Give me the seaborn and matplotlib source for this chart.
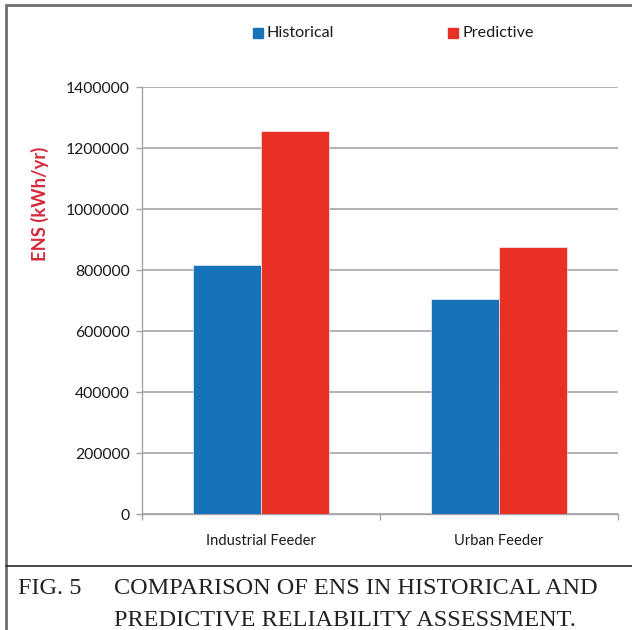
import matplotlib
matplotlib.use("Agg")
import matplotlib.pyplot as plt
from matplotlib.lines import Line2D
from matplotlib.patches import Rectangle
import seaborn as sns
import pandas as pd

# Energy not supplied per feeder, two assessment approaches
feeders = ["Industrial Feeder", "Urban Feeder"]
methods = ["Historical", "Predictive"]
historical = [816000, 705000]
predictive = [1258000, 877000]
y_ticks = [0, 200000, 400000, 600000, 800000, 1000000, 1200000, 1400000]

colors = {"Historical": "#1773b9", "Predictive": "#e83025"}
grid_color = "#a6a2ab"

df = pd.DataFrame({
    "feeder": feeders * 2,
    "method": [methods[0]] * len(feeders) + [methods[1]] * len(feeders),
    "ens": historical + predictive,
})

sns.set_theme(style="white")
plt.rcParams["font.family"] = ["Lato", "DejaVu Sans"]

W, H = 632, 630
fig = plt.figure(figsize=(W / 100, H / 100), dpi=100)
ax = fig.add_axes([142 / W, 1 - 514.3 / H, (618 - 142) / W, (514.3 - 87.3) / H])

sns.barplot(data=df, x="feeder", y="ens", hue="method", order=feeders,
            hue_order=methods, palette=colors, saturation=1, width=0.572,
            gap=0, edgecolor="white", linewidth=0.4, legend=False, ax=ax,
            zorder=3)

ax.set_xlim(-0.5, 1.5)
ax.set_ylim(0, 1400000)
ax.set_yticks(y_ticks)
ax.set_yticklabels([str(v) for v in y_ticks])
ax.yaxis.grid(True, color=grid_color, linewidth=1.2, zorder=0)
ax.xaxis.grid(False)
ax.set_xlabel("")
ax.set_ylabel("")

for side in ["top", "right"]:
    ax.spines[side].set_visible(False)
for side in ["left", "bottom"]:
    ax.spines[side].set_color(grid_color)
    ax.spines[side].set_linewidth(1.0)

ax.tick_params(axis="y", which="major", left=True, length=4, width=1.0,
               color=grid_color, labelsize=11.3, labelcolor="#1a1a1a", pad=5)
ax.tick_params(axis="x", which="major", bottom=False, length=0,
               labelsize=10.6, labelcolor="#1a1a1a", pad=14)
ax.set_xticks([-0.5, 0.5, 1.5], minor=True)
ax.tick_params(axis="x", which="minor", bottom=True, length=4, width=1.0,
               color=grid_color)

# y-axis title, placed in the upper part of the left margin
fig.text(40 / W, 1 - 204 / H, "ENS (kWh/yr)", rotation=90, ha="center",
         va="center", color="#d42a3c", fontsize=13.2, fontweight="bold")

# legend row across the top
for x0, name in [(253, "Historical"), (448, "Predictive")]:
    fig.patches.append(Rectangle((x0 / W, 1 - 38 / H), 10 / W, 10 / H,
                                 transform=fig.transFigure,
                                 color=colors[name]))
    fig.text((x0 + 14) / W, 1 - 33 / H, name, ha="left", va="center",
             fontsize=11.6, color="#1a1a1a")

# outer frame and caption divider
fig.add_artist(Line2D([6 / W, 6 / W], [0, 1 - 5 / H], transform=fig.transFigure,
                      color="#6e6e6e", linewidth=2))
fig.add_artist(Line2D([6 / W, 1], [1 - 5 / H, 1 - 5 / H],
                      transform=fig.transFigure, color="#6e6e6e", linewidth=2))
fig.add_artist(Line2D([6 / W, 1], [1 - 566 / H, 1 - 566 / H],
                      transform=fig.transFigure, color="#2a2a2a", linewidth=1.2))

cap_font = ["Liberation Serif", "DejaVu Serif"]
fig.text(18 / W, 1 - 594 / H, "FIG. 5", ha="left", va="baseline",
         fontsize=17.5, family=cap_font, color="#222222")
fig.text(114 / W, 1 - 594 / H, "COMPARISON OF ENS IN HISTORICAL AND",
         ha="left", va="baseline", fontsize=17.5, family=cap_font,
         color="#222222")
fig.text(114 / W, 1 - 626 / H, "PREDICTIVE RELIABILITY ASSESSMENT.",
         ha="left", va="baseline", fontsize=17.5, family=cap_font,
         color="#222222")

fig.savefig("out.png", dpi=100)
